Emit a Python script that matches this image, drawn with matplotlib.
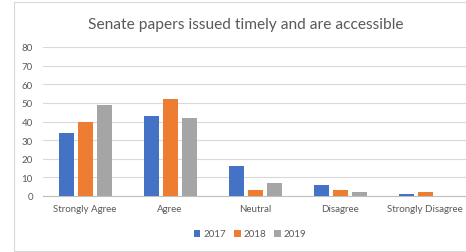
import matplotlib
matplotlib.use("Agg")
import matplotlib.pyplot as plt
import numpy as np
from matplotlib.patches import Rectangle

categories = ["Strongly Agree", "Agree", "Neutral", "Disagree", "Strongly Disagree"]
years = ["2017", "2018", "2019"]
v2017 = [34, 43, 16, 6, 1]
v2018 = [40, 52, 3, 3, 2]
v2019 = [49, 42, 7, 2, 0]
colors = ["#4472C4", "#ED7D31", "#A5A5A5"]
title = "Senate papers issued timely and are accessible"

plt.rcParams['font.family'] = ['Lato', 'DejaVu Sans']

W, H = 466, 253
fig = plt.figure(figsize=(W/100, H/100), dpi=100)
fig.patch.set_facecolor("white")
fig.add_artist(Rectangle((14/W, 1-252/H), (W+5-14)/W, (252-3)/H, transform=fig.transFigure,
                         fill=False, edgecolor="#d9d9d9", linewidth=0.8))

ax = fig.add_axes([42.5/W, 1-197/H, 425/W, 149/H])
x = np.arange(len(categories))
bw = 15/85
step = 19/85
for i, (vals, c, lab) in enumerate(zip([v2017, v2018, v2019], colors, years)):
    ax.bar(x + (i-1)*step, vals, width=bw, color=c, label=lab, zorder=3)

ax.set_xlim(-0.5, 4.5)
ax.set_ylim(0, 80)
ax.set_yticks(range(0, 81, 10))
ax.set_xticks(x)
ax.set_xticklabels(categories)
ax.grid(axis='y', color='#d9d9d9', linewidth=0.8, zorder=0)
for s in ['top', 'right', 'left']:
    ax.spines[s].set_visible(False)
ax.spines['bottom'].set_color('#bfbfbf')
ax.spines['bottom'].set_linewidth(0.8)
ax.tick_params(axis='both', length=0, labelsize=7, colors='#595959', pad=6)
ax.tick_params(axis='y', pad=7)
ax.patch.set_alpha(0)

fig.text(246/W, 1-25/H, title, ha='center', va='center', fontsize=11.2, color='#595959')

leg = fig.legend(loc='center', bbox_to_anchor=(250/W, 1-235/H), ncol=3, frameon=False,
                 fontsize=7, handlelength=0.7, handleheight=0.7, handletextpad=0.3,
                 columnspacing=0.8, labelcolor='#595959')

fig.savefig("out.png", dpi=100)
